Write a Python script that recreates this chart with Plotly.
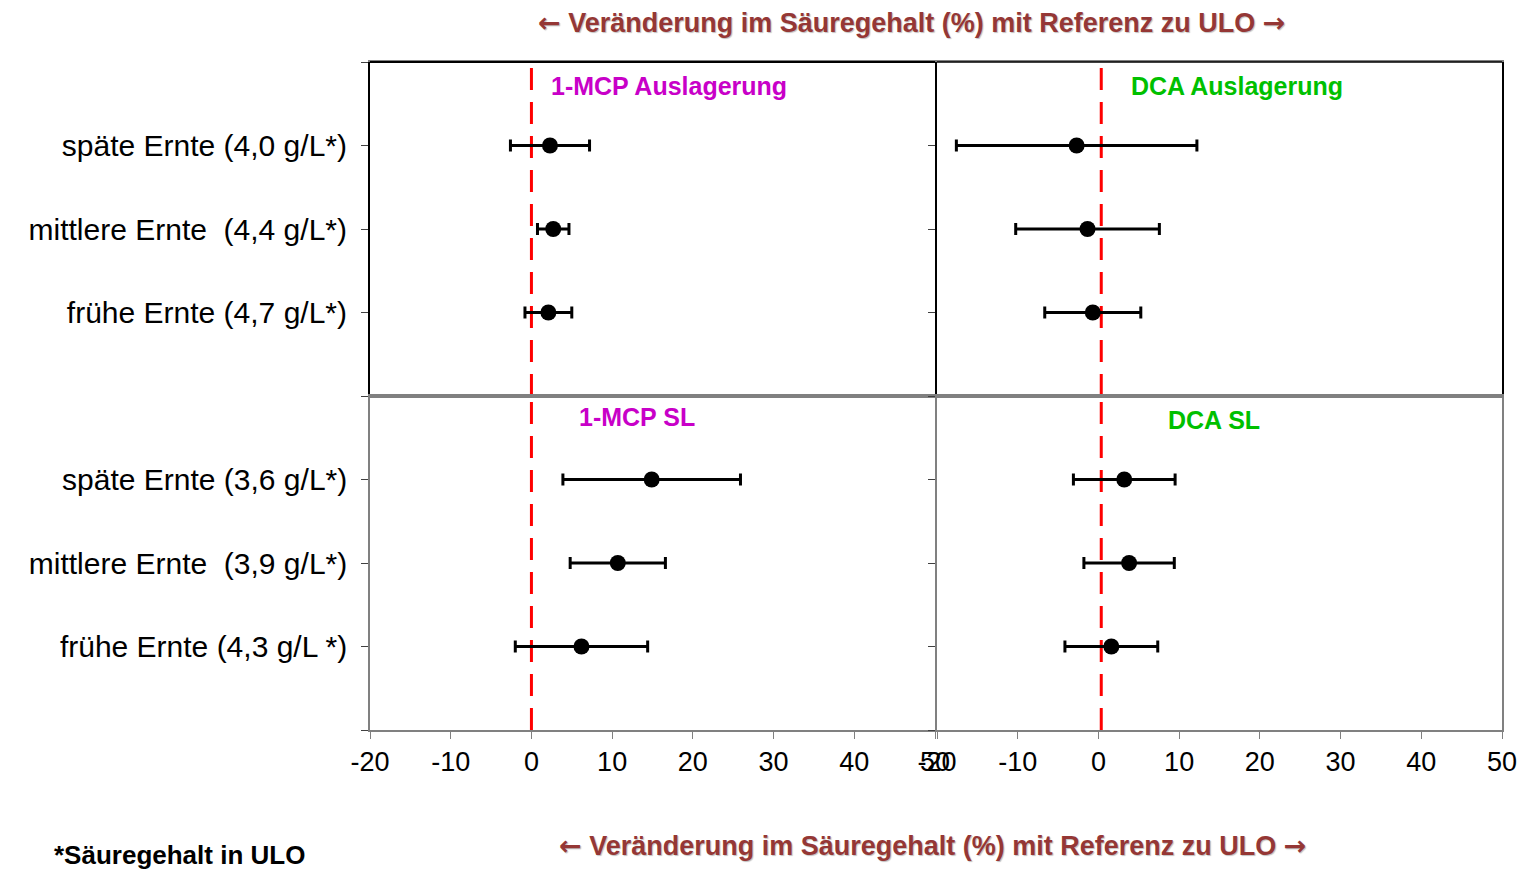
import plotly.graph_objects as go

# Harvest stages (top to bottom within each panel)
labels_top = ["späte Ernte (4,0 g/L*)", "mittlere Ernte  (4,4 g/L*)", "frühe Ernte (4,7 g/L*)"]
labels_bottom = ["späte Ernte (3,6 g/L*)", "mittlere Ernte  (3,9 g/L*)", "frühe Ernte (4,3 g/L *)"]
row_pos = [1, 2, 3]

# Change in acid content (%) relative to ULO, mean and half-width of error bar
mcp_lager_mean = [2.3, 2.7, 2.1]
mcp_lager_err = [4.9, 1.95, 2.9]
dca_lager_mean = [-2.7, -1.35, -0.7]
dca_lager_err = [14.9, 8.9, 5.95]
mcp_sl_mean = [14.9, 10.7, 6.2]
mcp_sl_err = [11.0, 5.9, 8.2]
dca_sl_mean = [3.2, 3.8, 1.6]
dca_sl_err = [6.3, 5.6, 5.75]

x_ticks = [-20, -10, 0, 10, 20, 30, 40, 50]
x_tick_text = ["-20", "-10", "0", "10", "20", "30", "40", "50"]
ref_line_left = 0
ref_line_right = 0.35

W, H = 1527, 869
FONT = "Arial, Liberation Sans, sans-serif"
ARROW_FONT = "DejaVu Sans"
TITLE_RED = "#953735"
MAGENTA = "#C800C8"
GREEN = "#00C000"
GRAY = "#808080"


def px_x(p):
    return p / W


def px_y(p):
    return 1 - p / H


col_dom = [[px_x(370), px_x(935)], [px_x(937), px_x(1502)]]
row_dom = [[px_y(396), px_y(62)], [px_y(730), px_y(396)]]

panels = [
    # (axis suffix, col, row, means, errs, ref line)
    ("", 0, 0, mcp_lager_mean, mcp_lager_err, ref_line_left),
    ("2", 1, 0, dca_lager_mean, dca_lager_err, ref_line_right),
    ("3", 0, 1, mcp_sl_mean, mcp_sl_err, ref_line_left),
    ("4", 1, 1, dca_sl_mean, dca_sl_err, ref_line_right),
]

fig = go.Figure()
layout = {}

for suf, col, row, means, errs, ref in panels:
    xa = "x" + suf
    ya = "y" + suf
    fig.add_trace(go.Scatter(
        x=means, y=row_pos, xaxis=xa, yaxis=ya, mode="markers",
        marker=dict(color="black", size=16),
        error_x=dict(type="data", array=errs, symmetric=True,
                     color="black", thickness=3, width=6),
        showlegend=False, hoverinfo="x",
    ))
    fig.add_shape(type="line", xref=xa, yref=ya + " domain", x0=ref, x1=ref,
                  y0=0, y1=1, line=dict(color="#FF0000", width=3, dash="22px,12px"),
                  layer="below")

    top = row == 0
    left = col == 0
    layout["xaxis" + suf] = dict(
        domain=col_dom[col], anchor=ya, range=[-20, 50], automargin=False,
        tickvals=x_ticks, ticktext=x_tick_text, showticklabels=not top,
        ticks="" if top else "outside", ticklen=7, tickcolor=GRAY,
        tickfont=dict(family=FONT, size=27, color="black"),
        showgrid=False, zeroline=False, showline=True, mirror=True,
        linecolor=GRAY, linewidth=1.5,
    )
    ticktext = [""] + (labels_top if top else labels_bottom) + [""]
    layout["yaxis" + suf] = dict(
        domain=row_dom[row], anchor=xa, range=[4, 0], automargin=False,
        tickvals=[0, 1, 2, 3, 4], ticktext=ticktext if left else [""] * 5,
        showticklabels=left, ticks="outside", ticklen=7,
        tickcolor="#404040", ticklabelstandoff=8,
        tickfont=dict(family=FONT, size=30, color="black"),
        showgrid=False, zeroline=False, showline=True, mirror=True,
        linecolor="black" if top else GRAY, linewidth=2 if top else 1.5,
    )

# dark top border of the upper panels
for suf, width in (("", 2), ("2", 1.5)):
    fig.add_shape(type="line", xref="x" + suf + " domain", yref="y" + suf + " domain",
                  x0=0, x1=1, y0=1, y1=1, line=dict(color="black", width=width))

arrow_l = f"<span style='font-family:{ARROW_FONT}'>←</span>"
arrow_r = f"<span style='font-family:{ARROW_FONT}'>→</span>"
axis_title = f"{arrow_l} Veränderung im Säuregehalt (%) mit Referenz zu ULO {arrow_r}"
shadow = "1px 1px 1px rgba(0,0,0,0.25)"
annotations = [
    dict(text=axis_title, x=px_x(911), y=px_y(22)),
    dict(text=axis_title, x=px_x(932), y=px_y(845)),
]
annotations = [dict(a, xref="paper", yref="paper", showarrow=False,
                    xanchor="center", yanchor="middle",
                    font=dict(family=FONT, size=27, color=TITLE_RED,
                              weight="bold", shadow=shadow))
               for a in annotations]

panel_labels = [
    ("1-MCP Auslagerung", 669, 86, MAGENTA),
    ("DCA Auslagerung", 1237, 86, GREEN),
    ("1-MCP SL", 637, 417, MAGENTA),
    ("DCA SL", 1214, 420, GREEN),
]
for txt, cx, cy, colr in panel_labels:
    annotations.append(dict(text=txt, x=px_x(cx), y=px_y(cy), xref="paper",
                            yref="paper", showarrow=False, xanchor="center",
                            yanchor="middle",
                            font=dict(family=FONT, size=25, color=colr,
                                      weight="bold")))

annotations.append(dict(text="*Säuregehalt in ULO", x=px_x(52), y=px_y(855),
                        xref="paper", yref="paper", showarrow=False,
                        xanchor="left", yanchor="middle",
                        font=dict(family=FONT, size=26, color="black",
                                  weight="bold")))

fig.update_layout(
    width=W, height=H, margin=dict(l=0, r=0, t=0, b=0, autoexpand=False),
    paper_bgcolor="white", plot_bgcolor="white",
    annotations=annotations, **layout,
)

fig.write_html("out.html")
